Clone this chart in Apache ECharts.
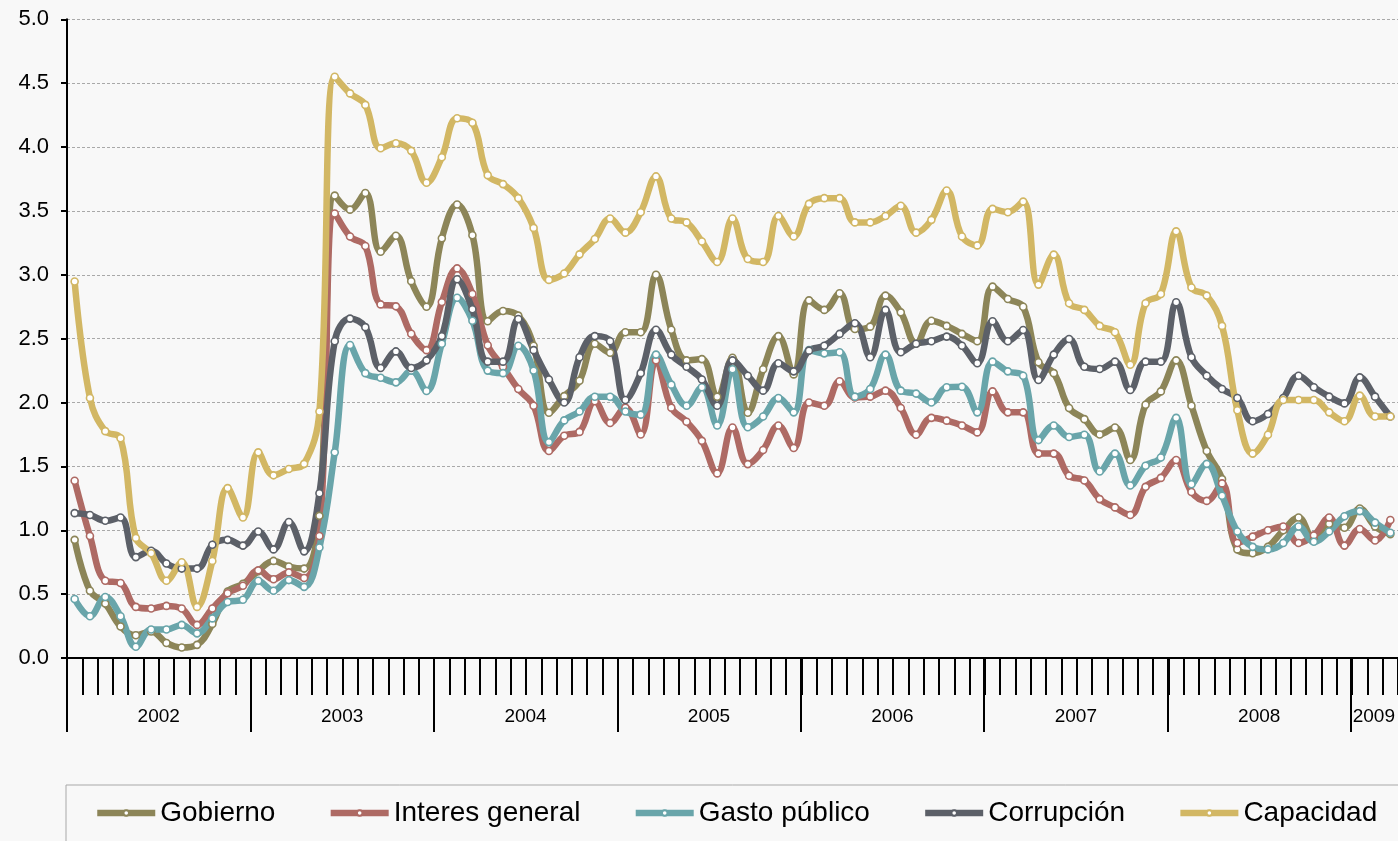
<!DOCTYPE html>
<html>
<head>
<meta charset="utf-8">
<script src="https://cdn.jsdelivr.net/npm/echarts@6/dist/echarts.min.js"></script>
<style>
html,body{margin:0;padding:0;background:#f8f8f8;}
#chart{width:1398px;height:841px;}
</style>
</head>
<body>
<div id="chart"></div>
<script>
// ---- data ----
const years = ['2002','2003','2004','2005','2006','2007','2008','2009'];
const monthCount = 87; // Jan 2002 .. Mar 2009
const months = [];
for (let i = 0; i < monthCount; i++) {
  months.push(years[Math.floor(i / 12)] + '-' + String(i % 12 + 1).padStart(2, '0'));
}
const seriesNames = ['Gobierno', 'Interes general', 'Gasto público', 'Corrupción', 'Capacidad'];
const seriesColors = ['#8C8558', '#AE6A64', '#69A5AA', '#5C6068', '#D2B764'];

const gobierno = [0.925,0.527,0.426,0.247,0.178,0.208,0.118,0.082,0.103,0.267,0.52,0.58,0.68,0.76,0.716,
  0.70,1.113,3.62,3.51,3.64,3.18,3.305,2.95,2.75,3.285,3.55,3.31,2.636,2.717,
  2.68,2.445,1.92,2.05,2.17,2.46,2.39,2.55,2.55,3.00,2.57,2.33,2.34,2.045,2.35,
  1.92,2.26,2.52,2.22,2.80,2.725,2.855,2.575,2.594,2.837,2.706,2.46,2.64,2.60,
  2.537,2.48,2.907,2.81,2.75,2.315,2.23,1.957,1.87,1.75,1.805,1.55,1.983,2.087,2.33,
  1.975,1.62,1.40,0.85,0.82,0.87,1.00,1.10,0.93,1.05,1.02,1.17,1.03,0.97];
const interesGeneral = [1.388,0.955,0.605,0.587,0.40,0.387,0.408,0.387,0.259,0.387,0.507,0.566,0.686,0.617,0.67,
  0.626,0.955,3.48,3.30,3.225,2.768,2.753,2.538,2.41,2.786,3.05,2.85,2.448,2.28,
  2.106,1.975,1.62,1.74,1.77,2.01,1.84,1.96,1.75,2.33,1.96,1.85,1.70,1.445,1.805,
  1.518,1.628,1.82,1.644,2.00,1.975,2.166,2.04,2.046,2.093,1.957,1.748,1.88,1.858,
  1.82,1.766,2.087,1.923,1.923,1.60,1.60,1.427,1.39,1.244,1.179,1.12,1.34,1.41,1.55,
  1.30,1.23,1.367,0.90,0.95,1.00,1.03,0.90,0.96,1.10,0.88,1.01,0.92,1.08];
const gastoPublico = [0.462,0.327,0.477,0.327,0.088,0.223,0.223,0.259,0.193,0.31,0.438,0.456,0.605,0.527,0.61,
  0.557,0.865,1.61,2.45,2.23,2.194,2.158,2.25,2.09,2.46,2.82,2.64,2.25,2.23,
  2.445,2.25,1.69,1.86,1.93,2.045,2.045,1.93,1.905,2.375,2.14,1.975,2.12,1.82,2.26,
  1.806,1.89,2.035,1.923,2.41,2.385,2.393,2.046,2.106,2.375,2.093,2.07,2.00,2.12,
  2.124,1.923,2.32,2.244,2.21,1.706,1.82,1.73,1.748,1.46,1.60,1.35,1.505,1.57,1.88,
  1.36,1.52,1.27,0.99,0.87,0.85,0.90,1.03,0.91,0.99,1.11,1.15,1.06,0.98];
const corrupcion = [1.134,1.12,1.074,1.10,0.79,0.84,0.74,0.70,0.70,0.886,0.925,0.88,0.99,0.85,1.065,
  0.835,1.29,2.48,2.657,2.59,2.27,2.40,2.27,2.33,2.52,2.965,2.73,2.32,2.32,
  2.654,2.41,2.18,2.00,2.354,2.52,2.48,2.02,2.23,2.57,2.375,2.28,2.18,1.975,2.33,
  2.21,2.093,2.307,2.244,2.406,2.445,2.537,2.62,2.354,2.725,2.393,2.46,2.48,2.516,
  2.445,2.307,2.636,2.48,2.568,2.176,2.375,2.497,2.28,2.262,2.32,2.098,2.32,2.32,2.785,
  2.354,2.21,2.106,2.035,1.853,1.91,2.035,2.21,2.12,2.046,1.993,2.197,2.046,1.89];
const capacidad = [2.947,2.036,1.776,1.72,0.94,0.82,0.605,0.75,0.40,0.76,1.33,1.10,1.61,1.43,1.48,
  1.52,1.93,4.55,4.42,4.33,3.99,4.03,3.97,3.72,3.92,4.225,4.19,3.78,3.71,
  3.60,3.367,2.96,3.01,3.16,3.28,3.44,3.33,3.49,3.77,3.44,3.41,3.26,3.10,3.44,
  3.124,3.10,3.46,3.30,3.555,3.60,3.60,3.41,3.41,3.46,3.54,3.33,3.43,3.66,
  3.30,3.23,3.516,3.49,3.573,2.923,3.158,2.777,2.725,2.60,2.55,2.296,2.777,2.85,3.34,
  2.90,2.837,2.60,1.94,1.60,1.748,2.02,2.02,2.02,1.923,1.853,2.054,1.89,1.89];
const seriesData = [gobierno, interesGeneral, gastoPublico, corrupcion, capacidad];

// half-month slots for the year row (boundaries and year centres)
const yearSlots = [];
for (let k = 0; k <= monthCount * 2; k++) yearSlots.push(String(k));

const FONT = "'Liberation Sans', Arial, sans-serif";
const chart = echarts.init(document.getElementById('chart'), null, {renderer: 'canvas'});

const gridBox = {left: 67, right: -1, top: 19.3, bottom: 183, containLabel: false};

chart.setOption({
  animation: false,
  backgroundColor: '#f8f8f8',
  textStyle: {fontFamily: FONT},
  grid: [Object.assign({}, gridBox), Object.assign({}, gridBox)],
  legend: {
    data: seriesNames,
    left: 66, top: 785,
    width: 3000,
    padding: [13, 300, 60, 28],
    itemGap: 52,
    itemWidth: 58,
    itemHeight: 7,
    selectedMode: false,
    borderColor: '#a8a8a8',
    borderWidth: 1,
    lineStyle: {width: 6.5},
    textStyle: {fontSize: 28, color: '#000', fontFamily: FONT, lineHeight: 30}
  },
  xAxis: [
    {
      type: 'category', gridIndex: 0, data: months, boundaryGap: true,
      axisLine: {show: true, lineStyle: {color: '#000', width: 2}},
      axisTick: {show: true, interval: 0, length: 37, lineStyle: {color: '#000', width: 2}},
      axisLabel: {show: false},
      splitLine: {show: false}
    },
    {
      type: 'category', gridIndex: 1, data: yearSlots, boundaryGap: false,
      position: 'bottom',
      axisLine: {show: false},
      axisTick: {show: true, length: 74, lineStyle: {color: '#000', width: 2},
        interval: function (idx) { return idx % 24 === 0; }},
      axisLabel: {show: true, margin: 49, fontSize: 19, color: '#000', fontFamily: FONT,
        interval: function (idx) { return idx % 24 === 12 || idx === (monthCount * 2 - 3); },
        formatter: function (val, idx) { return years[Math.floor(Number(val) / 24)]; }},
      splitLine: {show: false}
    }
  ],
  yAxis: [
    {
      type: 'value', gridIndex: 0, min: 0, max: 5, interval: 0.5,
      axisLine: {show: true, lineStyle: {color: '#000', width: 2}},
      axisTick: {show: true, length: 6, lineStyle: {color: '#000', width: 2}},
      axisLabel: {margin: 18, fontSize: 22, color: '#000', fontFamily: FONT,
        formatter: function (v) { return v.toFixed(1); }},
      splitLine: {show: true, lineStyle: {color: '#a9a9a9', width: 1, type: [3, 2]}}
    },
    {type: 'value', gridIndex: 1, min: 0, max: 5, show: false}
  ],
  series: seriesNames.map(function (name, i) {
    return {
      name: name,
      type: 'line',
      xAxisIndex: 0, yAxisIndex: 0,
      data: seriesData[i],
      smooth: 0.4,
      symbol: 'circle',
      symbolSize: 7,
      showSymbol: true,
      lineStyle: {color: seriesColors[i], width: 6.5},
      itemStyle: {color: '#ffffff', borderColor: seriesColors[i], borderWidth: 1.6},
      emphasis: {disabled: true}
    };
  })
});
</script>
</body>
</html>
